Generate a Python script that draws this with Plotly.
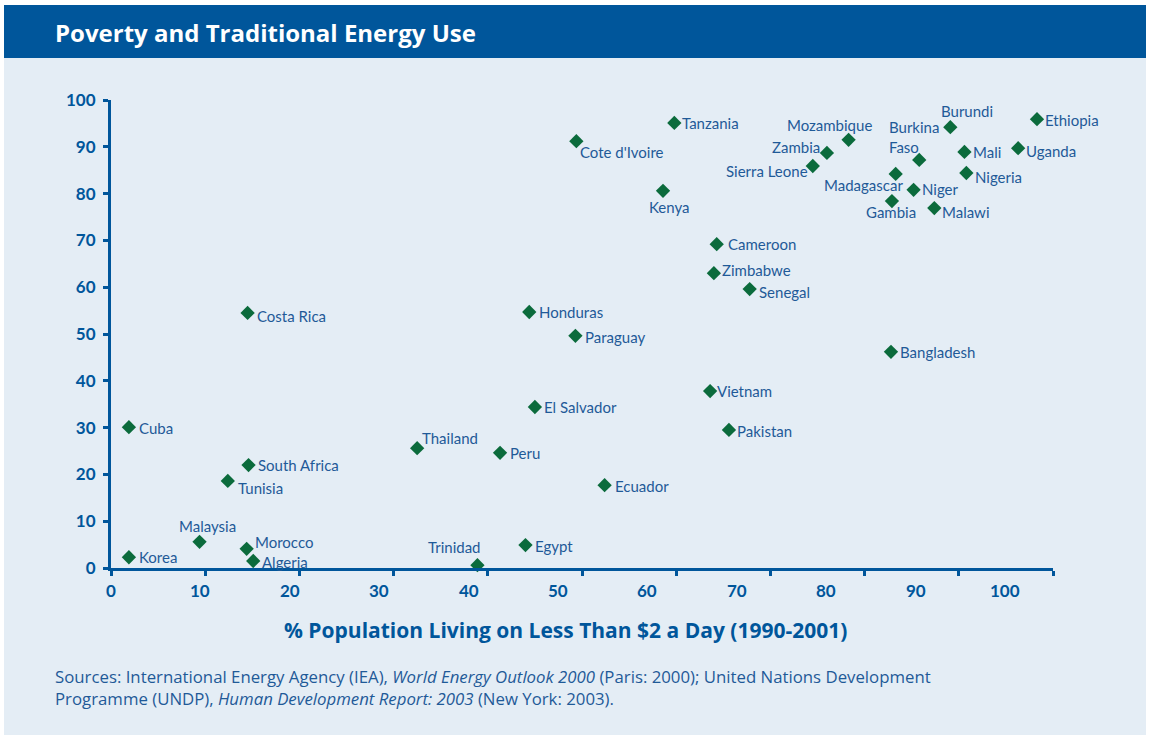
import plotly.graph_objects as go

# ---------------- data ----------------
countries = ["Korea", "Cuba", "Malaysia", "Tunisia", "South Africa", "Costa Rica",
             "Morocco", "Algeria", "Thailand", "Trinidad", "Peru", "Egypt",
             "Honduras", "El Salvador", "Paraguay", "Cote d'Ivoire", "Ecuador",
             "Kenya", "Tanzania", "Vietnam", "Cameroon", "Zimbabwe", "Pakistan",
             "Senegal", "Sierra Leone", "Zambia", "Mozambique", "Madagascar",
             "Gambia", "Bangladesh", "Burkina Faso", "Niger", "Malawi", "Burundi",
             "Mali", "Nigeria", "Uganda", "Ethiopia"]
poverty_pct = [1.9, 1.9, 9.4, 12.4, 14.6, 14.5,
               14.4, 15.1, 32.5, 38.9, 41.3, 44.0,
               44.4, 45.0, 49.3, 49.4, 52.4,
               58.6, 59.8, 63.6, 64.3, 64.0, 65.6,
               67.8, 74.5, 76.0, 78.3, 83.3,
               82.9, 82.8, 85.8, 85.2, 87.4, 89.1,
               90.6, 90.8, 96.3, 98.3]
traditional_energy_pct = [2.3, 30.1, 5.6, 18.6, 22.0, 54.5,
                          4.1, 1.5, 25.6, 0.6, 24.6, 4.9,
                          54.7, 34.4, 49.6, 91.2, 17.7,
                          80.6, 95.1, 37.8, 69.2, 63.0, 29.5,
                          59.6, 85.9, 88.7, 91.5, 84.2,
                          78.4, 46.2, 87.2, 80.8, 76.9, 94.2,
                          88.9, 84.4, 89.7, 95.9]
x_tick_values = [0, 10, 20, 30, 40, 50, 60, 70, 80, 90, 100]
x_tick_labels = [str(v) for v in x_tick_values]
y_tick_values = [0, 10, 20, 30, 40, 50, 60, 70, 80, 90, 100]
y_tick_labels = [str(v) for v in y_tick_values]

# ---------------- styling / label placement ----------------
# anchor, dx (px), dy (px, positive = down)
label_place = {
    "Korea": ("l", 9, 0), "Cuba": ("l", 9, 1), "Malaysia": ("c", 8, -16),
    "Tunisia": ("l", 9, 7), "South Africa": ("l", 8, 0), "Costa Rica": ("l", 8, 3),
    "Morocco": ("l", 7, -7), "Algeria": ("l", 8, 1), "Thailand": ("l", 4, -10),
    "Trinidad": ("r", 5, -18), "Peru": ("l", 9, 0), "Egypt": ("l", 9, 1),
    "Honduras": ("l", 9, 0), "El Salvador": ("l", 8, 0), "Paraguay": ("l", 9, 1),
    "Cote d'Ivoire": ("l", 3, 11), "Ecuador": ("l", 9, 1), "Kenya": ("c", 6, 16),
    "Tanzania": ("l", 7, 0), "Vietnam": ("l", 6, 0), "Cameroon": ("l", 10, 0),
    "Zimbabwe": ("l", 7, -3), "Pakistan": ("l", 7, 1), "Senegal": ("l", 8, 3),
    "Sierra Leone": ("r", -4, 5), "Zambia": ("r", -6, -6), "Mozambique": ("c", -19, -15),
    "Madagascar": ("r", 8, 11), "Gambia": ("c", -1, 11), "Bangladesh": ("l", 8, 0),
    "Burkina Faso": ("bf", -31, -23), "Niger": ("l", 7, -1), "Malawi": ("l", 7, 4),
    "Burundi": ("c", 17, -16), "Mali": ("l", 8, 0), "Nigeria": ("l", 8, 4),
    "Uganda": ("l", 7, 3), "Ethiopia": ("l", 7, 1),
}

W, H = 1151, 738
ML, MR, MT, MB = 111, 98, 100, 170
PW, PH = W - ML - MR, H - MT - MB
LABEL_SCALE = 0.949  # tick labels in the original sit slightly left of the tick marks

BLUE = "#00569B"
TEXT = "#1F5A98"
GREEN = "#0B6B3C"
BG = "#E4EDF5"
FONT = "Lato"
FONT2 = "Open Sans"


def px(xp):
    return (xp - ML) / PW


def py(yp):
    return 1 - (yp - MT) / PH


fig = go.Figure()
fig.add_trace(go.Scatter(
    x=poverty_pct, y=traditional_energy_pct, mode="markers",
    marker=dict(symbol="diamond", size=11, color=GREEN, line=dict(width=0)),
    cliponaxis=False, hoverinfo="text", text=countries, showlegend=False,
))

annotations = []
for name, xv, yv in zip(countries, poverty_pct, traditional_energy_pct):
    anc, dx, dy = label_place[name]
    txt = name
    if anc == "l":
        xa = "left"
    elif anc == "r":
        xa = "right"
    elif anc == "c":
        xa = "center"
    else:
        xa = "left"
        txt = "Burkina<br>Faso"
    annotations.append(dict(
        x=xv, y=yv, xref="x", yref="y", text=txt, showarrow=False,
        xanchor=xa, yanchor="middle", xshift=dx, yshift=-dy, align="left",
        font=dict(family=FONT, size=15, color=TEXT), borderpad=0,
    ))

# x tick labels
for v, lab in zip(x_tick_values, x_tick_labels):
    annotations.append(dict(
        x=v * LABEL_SCALE, y=py(590), xref="x", yref="paper", text=lab,
        showarrow=False, xanchor="center", yanchor="middle",
        font=dict(family=FONT, size=17, color=BLUE, weight="bold"),
    ))

# title
annotations.append(dict(
    x=px(53), y=py(32), xref="paper", yref="paper",
    text="Poverty and Traditional Energy Use", showarrow=False,
    xanchor="left", yanchor="middle",
    font=dict(family=FONT2, size=24, color="white", weight="bold"),
))
# axis title
annotations.append(dict(
    x=px(565), y=py(630), xref="paper", yref="paper",
    text="% Population Living on Less Than $2 a Day (1990-2001)", showarrow=False,
    xanchor="center", yanchor="middle",
    font=dict(family=FONT2, size=21, color=BLUE, weight="bold"),
))
# sources
annotations.append(dict(
    x=px(53), y=py(687), xref="paper", yref="paper",
    text=("Sources: International Energy Agency (IEA), <i>World Energy Outlook 2000</i> (Paris: 2000); "
          "United Nations Development<br>Programme (UNDP), <i>Human Development Report: 2003</i> "
          "(New York: 2003)."),
    showarrow=False, xanchor="left", yanchor="middle", align="left",
    font=dict(family=FONT2, size=16.8, color=TEXT),
))

shapes = [
    dict(type="rect", xref="paper", yref="paper", x0=px(4), x1=px(1146), y0=py(58), y1=py(735),
         fillcolor=BG, line=dict(width=0), layer="below"),
    dict(type="rect", xref="paper", yref="paper", x0=px(4), x1=px(1146), y0=py(5), y1=py(58),
         fillcolor=BLUE, line=dict(width=0), layer="below"),
]

fig.update_layout(
    width=W, height=H, margin=dict(l=ML, r=MR, t=MT, b=MB, autoexpand=False),
    paper_bgcolor="white", plot_bgcolor="rgba(0,0,0,0)",
    annotations=annotations, shapes=shapes, showlegend=False,
    font=dict(family=FONT, color=TEXT),
)
fig.update_xaxes(
    range=[0, 100], tickvals=x_tick_values, showticklabels=False,
    showgrid=False, zeroline=False, showline=True, linecolor=BLUE, linewidth=3,
    ticks="outside", ticklen=5, tickwidth=3, tickcolor=BLUE,
)
fig.update_yaxes(
    range=[0, 100], tickvals=y_tick_values, ticktext=y_tick_labels,
    showgrid=False, zeroline=False, showline=True, linecolor=BLUE, linewidth=3,
    ticks="outside", ticklen=5, tickwidth=3, tickcolor=BLUE,
    tickfont=dict(family=FONT, size=17, color=BLUE, weight="bold"), ticklabelstandoff=4,
)

fig.write_html(
    "out.html",
    config={"displayModeBar": False},
    post_script="document.body.style.margin='0';document.body.style.overflow='hidden';",
)
